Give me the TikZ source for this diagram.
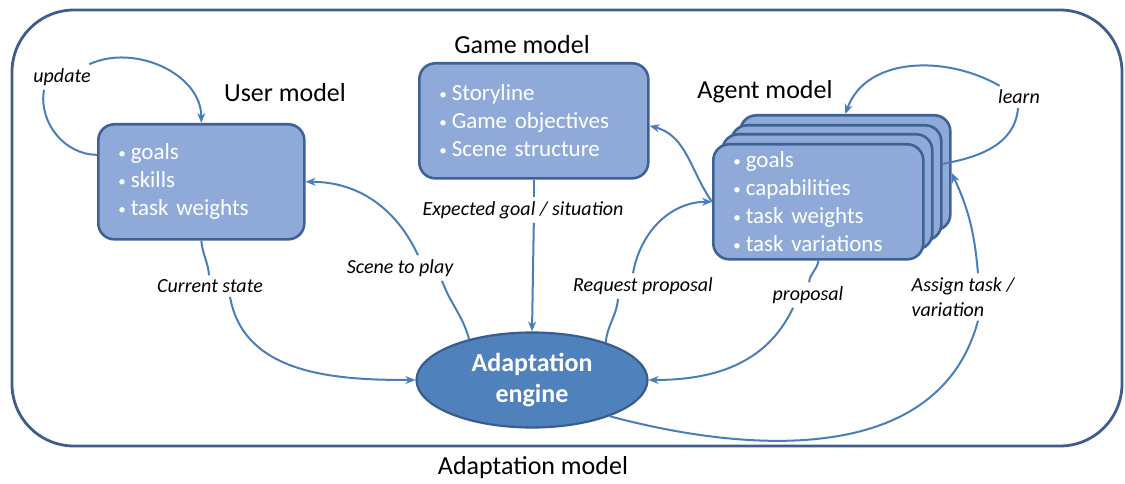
\documentclass[tikz,border=0pt]{standalone}
\usepackage{fontspec}
\setmainfont{Carlito}
\usetikzlibrary{arrows.meta,shapes.geometric}

\definecolor{flowblue}{RGB}{74,126,187}
\definecolor{boxfill}{RGB}{143,170,216}
\definecolor{boxline}{RGB}{62,98,152}
\definecolor{enginefill}{RGB}{79,129,189}
\definecolor{engineline}{RGB}{56,92,140}
\definecolor{framecol}{RGB}{64,92,140}

% small bullet as in the boxes
\newcommand\itm{{\fontsize{15}{15}\selectfont\raisebox{1.5pt}{\textbullet}}\hspace{5pt}}

\tikzset{
  model/.style={draw=boxline, fill=boxfill, line width=2.6pt, rounded corners=16pt,
    text=white, font=\fontsize{23}{28}\selectfont, align=left, text width=#1,
    inner xsep=20pt, inner ysep=1pt, minimum height=115pt, anchor=north west},
  modeltitle/.style={font=\fontsize{26}{31}\selectfont},
  flowlabel/.style={font=\itshape\fontsize{20}{25}\selectfont, inner sep=4pt},
  flow/.style={draw=flowblue, line width=2pt},
  arr/.style={flow, -{Stealth[length=10pt,width=8pt]}}
}

\begin{document}
\begin{tikzpicture}[x=1pt,y=1pt]
  \useasboundingbox (0,0) rectangle (1125,483);
  % outer frame
  \draw[framecol, line width=2.8pt, rounded corners=62pt] (12,37) rectangle (1122,473);
  \node[modeltitle] (adaptlbl) at (533,15) {Adaptation model};

  % the three models
  \node[model=166pt] (user) at (97,360) {\itm goals\\ \itm skills\\ \itm task weights};
  \node[modeltitle] (usertitle) at (285,390) {User model};

  \node[model=189pt] (game) at (418,421) {\itm Storyline\\ \itm Game objectives\\ \itm Scene structure};
  \node[modeltitle] (gametitle) at (522,438) {Game model};

  \foreach \i/\dx/\dy in {3/27/29, 2/18/19, 1/9/10}
    \node[model=170pt] (a\i) at (712+\dx,340+\dy) {};
  \node[model=170pt] (a0) at (712,340) {\itm goals\\ \itm capabilities\\ \itm task weights\\ \itm task variations};
  \node[modeltitle] (agenttitle) at (765,391) {Agent model};

  % engine
  \node[ellipse, draw=engineline, fill=enginefill, line width=2.2pt, minimum width=231pt,
    minimum height=95pt, inner sep=0pt, text=white, align=center,
    font=\bfseries\fontsize{26}{31}\selectfont] (engine) at (532,103) {Adaptation\\engine};

  % labels
  \node[flowlabel] (upd) at (62,406) {update};
  \node[flowlabel] (cur) at (210,197) {Current state};
  \node[flowlabel] (scene) at (400,215) {Scene to play};
  \node[flowlabel] (expect) at (523,273) {Expected goal / situation};
  \node[flowlabel] (req) at (643,197) {Request proposal};
  \node[flowlabel] (prop) at (808,188) {proposal};
  \node[flowlabel] (learn) at (1019,386) {learn};
  \node[flowlabel, align=left] (assign) at (963,186) {Assign task /\\variation};

  % update loop
  \draw[flow] ([yshift=27pt]user.west) to[out=180,in=-100] ([xshift=-18pt]upd.south);
  \draw[arr] (upd) to[out=25,in=90] (user.north);

  % current state
  \draw[flow] (user.south) to[out=-85,in=95] (cur);
  \draw[arr] ([xshift=20pt]cur.south) to[out=-80,in=180] (engine.west);

  % scene to play
  \draw[flow] (engine.147) to[out=105,in=-70] ([xshift=42pt]scene.south);
  \draw[arr] ([xshift=18pt]scene.north) to[out=115,in=0] (user.east);

  % expected goal
  \draw[flow] (game.south) -- (game.south |- expect.north);
  \draw[arr] (game.south |- expect.south) -- (engine.north);

  % request proposal
  \draw[flow] (engine.27) to[out=85,in=-95] ([xshift=-25pt]req.south);
  \draw[arr] ([xshift=-10pt]req.north) to[out=80,in=180] (a0.west);
  \draw[arr] (a0.west) to[out=125,in=-15] ([yshift=-5pt]game.east);

  % proposal
  \draw[flow] (a0.south) to[out=-95,in=85] (prop);
  \draw[arr] ([xshift=-15pt]prop.south) to[out=-115,in=0] (engine.east);

  % learn loop
  \draw[flow] ([yshift=19pt]a2.east) to[out=10,in=-95] (learn);
  \draw[arr] (learn) to[out=150,in=70] (a3.north);

  % assign task
  \draw[flow] (engine.-25) to[out=-15,in=-105] ([xshift=15pt]assign.south);
  \draw[arr] ([xshift=15pt]assign.north) to[out=95,in=-65] (a3.east);
\end{tikzpicture}
\end{document}
